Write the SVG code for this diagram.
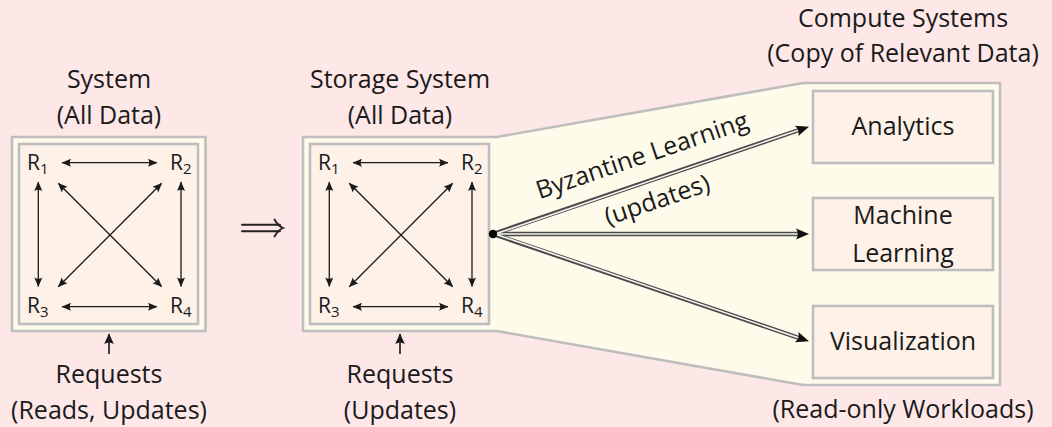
<svg xmlns="http://www.w3.org/2000/svg" width="1052" height="427" viewBox="0 0 1052 427">
<defs>
<style>
.t{font-family:"Open Sans","DejaVu Sans",sans-serif;font-size:25px;fill:#1a1a1a;text-anchor:middle}
.r{font-family:"Open Sans","DejaVu Sans",sans-serif;font-size:21px;fill:#1a1a1a}
.sub{font-size:15px}
.frame{fill:#fefbea;stroke:#bebebe;stroke-width:2.6;stroke-linejoin:round}
.inner{fill:#fdf1e8;stroke:#bebebe;stroke-width:2.6}
.thin{stroke:#1a1a1a;stroke-width:1.3;fill:none;marker-end:url(#ah);marker-start:url(#ah)}
.up{stroke:#1a1a1a;stroke-width:1.6;fill:none;marker-end:url(#ah2)}
.dbl-o{stroke:#4a4a4a;stroke-width:4.4;fill:none}
.dbl-i{stroke:#f4f4f0;stroke-width:1.6;fill:none}
</style>
<marker id="ah" viewBox="-10 -5 11 10" refX="0" refY="0" markerWidth="11" markerHeight="10" orient="auto-start-reverse" markerUnits="userSpaceOnUse">
<path d="M0.5,0 L-9,-4 Q-6.5,0 -9,4 Z" fill="#1a1a1a"/>
</marker>
<marker id="ah2" viewBox="-11 -6 12 12" refX="0" refY="0" markerWidth="12" markerHeight="12" orient="auto" markerUnits="userSpaceOnUse">
<path d="M0.5,0 L-10,-4.8 Q-7,0 -10,4.8 Z" fill="#1a1a1a"/>
</marker>
<path id="bighead" d="M1,0 L-12,-5.5 Q-8.5,0 -12,5.5 Z" fill="#111"/>
<g id="quad">
<line class="thin" x1="62" y1="162.7" x2="157" y2="162.7"/>
<line class="thin" x1="62" y1="306.7" x2="157" y2="306.7"/>
<line class="thin" x1="38.3" y1="182" x2="38.3" y2="286.5"/>
<line class="thin" x1="181" y1="182" x2="181" y2="286.5"/>
<line class="thin" x1="58.3" y1="183.3" x2="161.7" y2="286.7"/>
<line class="thin" x1="161.7" y1="183.3" x2="58.3" y2="286.7"/>
<text class="r" x="27" y="170">R<tspan class="sub" dy="4">1</tspan></text>
<text class="r" x="170" y="170">R<tspan class="sub" dy="4">2</tspan></text>
<text class="r" x="27" y="313">R<tspan class="sub" dy="4">3</tspan></text>
<text class="r" x="170" y="313">R<tspan class="sub" dy="4">4</tspan></text>
</g>
</defs>
<rect x="0" y="0" width="1052" height="427" fill="#fde7e7"/>

<g id="left-system">
<rect class="frame" x="12" y="137" width="193.5" height="194"/>
<rect class="inner" x="19" y="144" width="179" height="180"/>
<use href="#quad"/>
<text class="t" x="109" y="88">System</text>
<text class="t" x="109" y="124">(All Data)</text>
<text class="t" x="109" y="383">Requests</text>
<text class="t" x="109" y="419">(Reads, Updates)</text>
</g>

<g id="storage-system">
<path class="frame" d="M303,137 L496.5,137 L803,83 L1000,83 L1000,385 L803,385 L496.5,331 L303,331 Z"/>
<rect class="inner" x="310" y="144" width="179" height="180"/>
<use href="#quad" transform="translate(291,0)"/>
<text class="t" x="400" y="88">Storage System</text>
<text class="t" x="400" y="124">(All Data)</text>
<text class="t" x="400" y="383">Requests</text>
<text class="t" x="400" y="419">(Updates)</text>
</g>

<g id="compute-systems">
<text class="t" x="903" y="27">Compute Systems</text>
<text class="t" x="903" y="62">(Copy of Relevant Data)</text>
<text class="t" x="903" y="418">(Read-only Workloads)</text>
</g>
<g id="analytics">
<rect class="inner" x="813" y="91" width="180" height="72"/>
<text class="t" x="903" y="135">Analytics</text>
</g>
<g id="machine-learning">
<rect class="inner" x="813" y="198" width="180" height="72"/>
<text class="t" x="903" y="224">Machine</text>
<text class="t" x="903" y="262">Learning</text>
</g>
<g id="visualization">
<rect class="inner" x="813" y="306" width="180" height="72"/>
<text class="t" x="903" y="350">Visualization</text>
</g>

<g id="connectors">
<line class="up" x1="109" y1="354" x2="109" y2="334"/>
<line class="up" x1="400" y1="354" x2="400" y2="334"/>
<g stroke="#222" stroke-width="1.9" fill="none" stroke-linecap="round">
<line x1="242" y1="224.8" x2="280" y2="224.8"/>
<line x1="242" y1="231.2" x2="280" y2="231.2"/>
<path d="M274.5,219.5 C277,224 279.5,226.5 283,228 C279.5,229.5 277,232 274.5,236.5"/>
</g>
<line class="dbl-o" x1="493" y1="234" x2="800.5" y2="129.5"/>
<line class="dbl-o" x1="493" y1="234" x2="800" y2="234"/>
<line class="dbl-o" x1="493" y1="234" x2="800.5" y2="338.5"/>
<line class="dbl-i" x1="495" y1="234" x2="799" y2="130"/>
<line class="dbl-i" x1="495" y1="234" x2="798.5" y2="234"/>
<line class="dbl-i" x1="495" y1="234" x2="799" y2="338"/>
<use href="#bighead" transform="translate(808,127) rotate(-18.76)"/>
<use href="#bighead" transform="translate(808,234)"/>
<use href="#bighead" transform="translate(808,341) rotate(18.76)"/>
<circle cx="493" cy="234" r="4.2" fill="#000"/>
<g transform="translate(650.5,180.5) rotate(-18.76)">
<text class="t" x="0" y="-18">Byzantine Learning</text>
<text class="t" x="0" y="29">(updates)</text>
</g>
</g>
</svg>
